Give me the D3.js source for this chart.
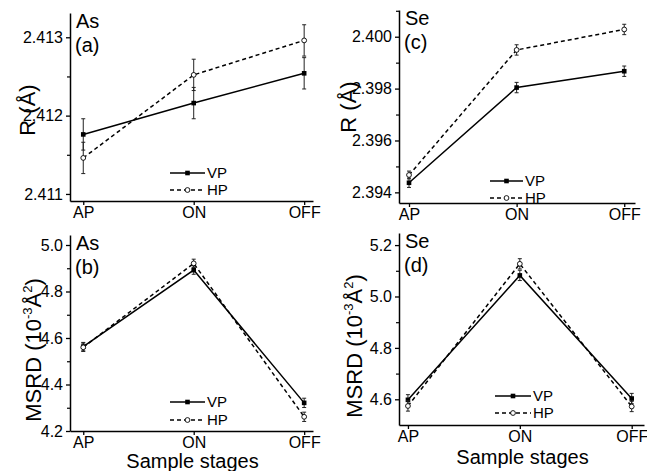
<!DOCTYPE html>
<html>
<head>
<meta charset="utf-8">
<script src="https://cdn.jsdelivr.net/npm/d3@7"></script>
<style>
  body { margin: 0; background: #fff; }
  svg { display: block; }
  text { font-family: "Liberation Sans", Arial, sans-serif; fill: #000; }
</style>
</head>
<body>
<div id="chart"></div>
<script>
(function() {
  // data
  var stages = ['AP', 'ON', 'OFF'];

  var asR_VP = [2.41176, 2.41216, 2.41254],
      asR_VPerr = [0.0002, 0.0002, 0.0002],
      asR_HP = [2.41146, 2.41252, 2.41296],
      asR_HPerr = [0.0002, 0.0002, 0.0002];

  var seR_VP = [2.39437, 2.39804, 2.39867],
      seR_VPerr = [0.00018, 0.0002, 0.0002],
      seR_HP = [2.39467, 2.39949, 2.40028],
      seR_HPerr = [0.00015, 0.0002, 0.0002];

  var asM_VP = [4.563, 4.892, 4.321],
      asM_VPerr = [0.018, 0.018, 0.02],
      asM_HP = [4.560, 4.921, 4.261],
      asM_HPerr = [0.018, 0.018, 0.02];

  var seM_VP = [4.598, 5.082, 4.603],
      seM_VPerr = [0.02, 0.02, 0.02],
      seM_HP = [4.574, 5.127, 4.572],
      seM_HPerr = [0.02, 0.02, 0.02];

  var asRTicks = [2.411, 2.412, 2.413],
      seRTicks = [2.394, 2.396, 2.398, 2.400],
      asMTicks = [4.2, 4.4, 4.6, 4.8, 5.0],
      seMTicks = [4.6, 4.8, 5.0, 5.2];

  // layout of the four panels
  var panels = [
    { elem: 'As', tag: '(a)', vp: asR_VP, vpe: asR_VPerr, hp: asR_HP, hpe: asR_HPerr,
      ticks: asRTicks, minor: 0.0005, fmt: '.3f', yDom: [2.41091, 2.41331],
      x0: 70, x1: 313, xDom: [-0.12, 2.08], yTop: 13, yBot: 201,
      ylab: 'R', ylx: 35, yly: 110, leg: [170, 205, 173, 190] },
    { elem: 'Se', tag: '(c)', vp: seR_VP, vpe: seR_VPerr, hp: seR_HP, hpe: seR_HPerr,
      ticks: seRTicks, minor: 0.001, fmt: '.3f', yDom: [2.39359, 2.40103],
      x0: 399, x1: 635, xDom: [-0.093, 2.1], yTop: 10, yBot: 203,
      ylab: 'R', ylx: 356, yly: 107, leg: [490, 523, 181, 198] },
    { elem: 'As', tag: '(b)', vp: asM_VP, vpe: asM_VPerr, hp: asM_HP, hpe: asM_HPerr,
      ticks: asMTicks, minor: 0.1, fmt: '.1f', yDom: [4.2, 5.043],
      x0: 70, x1: 313, xDom: [-0.12, 2.08], yTop: 235, yBot: 431,
      ylab: 'M', ylx: 41, yly: 350, leg: [170, 205, 402, 420], xlab: 468 },
    { elem: 'Se', tag: '(d)', vp: seM_VP, vpe: seM_VPerr, hp: seM_HP, hpe: seM_HPerr,
      ticks: seMTicks, minor: 0.1, fmt: '.1f', yDom: [4.5, 5.247],
      x0: 399, x1: 644, xDom: [-0.08, 2.11], yTop: 233, yBot: 425,
      ylab: 'M', ylx: 362, yly: 346, leg: [495, 531, 396, 413], xlab: 464 }
  ];

  var svg = d3.select('#chart').append('svg')
    .attr('width', 647)
    .attr('height', 471);

  panels.forEach(function(p) {
    var x = d3.scaleLinear().domain(p.xDom).range([p.x0, p.x1]),
        y = d3.scaleLinear().domain(p.yDom).range([p.yBot, p.yTop]);

    var g = svg.append('g');

    // minor y ticks
    var minorVals = d3.range(p.ticks[0] - p.minor, p.yDom[1], p.minor * 2)
      .filter(function(v) { return v > p.yDom[0] && v < p.yDom[1]; });
    g.append('g')
      .attr('transform', 'translate(' + p.x0 + ',0)')
      .call(d3.axisLeft(y).tickValues(minorVals).tickSize(3).tickFormat(''))
      .call(function(a) { a.select('.domain').remove(); })
      .selectAll('line').attr('stroke-width', 1.2);

    // y axis
    var ya = g.append('g')
      .attr('transform', 'translate(' + p.x0 + ',0)')
      .call(d3.axisLeft(y).tickValues(p.ticks).tickSize(4).tickSizeOuter(0)
        .tickPadding(3).tickFormat(d3.format(p.fmt)));
    ya.select('.domain').attr('stroke-width', 1.5);
    ya.selectAll('line').attr('stroke-width', 1.3);
    ya.selectAll('text').attr('font-size', 16)
      .style('font-family', '"Liberation Sans", Arial, sans-serif');

    // x axis
    var xa = g.append('g')
      .attr('transform', 'translate(0,' + p.yBot + ')')
      .call(d3.axisBottom(x).tickValues([0, 1, 2]).tickSize(4).tickSizeOuter(0)
        .tickPadding(2).tickFormat(function(i) { return stages[i]; }));
    xa.select('.domain').attr('stroke-width', 1.5);
    xa.selectAll('line').attr('stroke-width', 1.3);
    xa.selectAll('text').attr('font-size', 16)
      .style('font-family', '"Liberation Sans", Arial, sans-serif');

    // series
    var series = [
      { v: p.vp, e: p.vpe, dash: null, marker: 'square' },
      { v: p.hp, e: p.hpe, dash: '4,3', marker: 'circle' }
    ];

    var line = d3.line()
      .x(function(d, i) { return x(i); })
      .y(function(d) { return y(d); });

    series.forEach(function(s) {
      // error bars
      s.v.forEach(function(v, i) {
        var cx = x(i), lo = y(v - s.e[i]), hi = y(v + s.e[i]);
        g.append('line').attr('x1', cx).attr('x2', cx).attr('y1', lo).attr('y2', hi)
          .attr('stroke', '#222').attr('stroke-width', 1);
        [lo, hi].forEach(function(yy) {
          g.append('line').attr('x1', cx - 2).attr('x2', cx + 2)
            .attr('y1', yy).attr('y2', yy)
            .attr('stroke', '#222').attr('stroke-width', 1);
        });
      });

      g.append('path')
        .datum(s.v)
        .attr('d', line)
        .attr('fill', 'none')
        .attr('stroke', '#000')
        .attr('stroke-width', 1.5)
        .attr('stroke-dasharray', s.dash);

      s.v.forEach(function(v, i) {
        drawMarker(g, s.marker, x(i), y(v));
      });
    });

    // element and panel tag
    g.append('text').attr('x', p.x0 + 6).attr('y', p.yTop + 15)
      .attr('font-size', 20).text(p.elem);
    g.append('text').attr('x', p.x0 + 5).attr('y', p.yTop + 39)
      .attr('font-size', 20).text(p.tag);

    // legend
    var L = p.leg;
    [[L[2], null, 'square', 'VP'], [L[3], '4,3', 'circle', 'HP']].forEach(function(r) {
      g.append('line').attr('x1', L[0]).attr('x2', L[1])
        .attr('y1', r[0]).attr('y2', r[0])
        .attr('stroke', '#000').attr('stroke-width', 1.5)
        .attr('stroke-dasharray', r[1]);
      drawMarker(g, r[2], (L[0] + L[1]) / 2, r[0]);
      g.append('text').attr('x', L[1] + 2).attr('y', r[0] + 5)
        .attr('font-size', 15).text(r[3]);
    });

    // y label
    var yl = g.append('text')
      .attr('transform', 'translate(' + p.ylx + ',' + p.yly + ') rotate(-90)')
      .attr('text-anchor', 'middle');
    if (p.ylab === 'R') {
      yl.attr('font-size', 22).text('R (\u00C5)');
    } else {
      yl.attr('font-size', 22);
      yl.append('tspan').text('MSRD (10');
      yl.append('tspan').attr('dy', -9).attr('font-size', 13).text('-3');
      yl.append('tspan').attr('dy', 9).text('\u00C5');
      yl.append('tspan').attr('dy', -9).attr('font-size', 13).text('2');
      yl.append('tspan').attr('dy', 9).text(')');
    }

    // x label
    if (p.xlab) {
      g.append('text')
        .attr('x', (p.x0 + p.x1) / 2 + 1)
        .attr('y', p.xlab)
        .attr('text-anchor', 'middle')
        .attr('font-size', 20)
        .text('Sample stages');
    }
  });

  function drawMarker(g, type, cx, cy) {
    if (type === 'square') {
      g.append('rect').attr('x', cx - 2.3).attr('y', cy - 2.3)
        .attr('width', 4.6).attr('height', 4.6).attr('fill', '#000');
    } else {
      g.append('circle').attr('cx', cx).attr('cy', cy).attr('r', 2.4)
        .attr('fill', '#fff').attr('stroke', '#000').attr('stroke-width', 0.9);
    }
  }
})();
</script>
</body>
</html>
